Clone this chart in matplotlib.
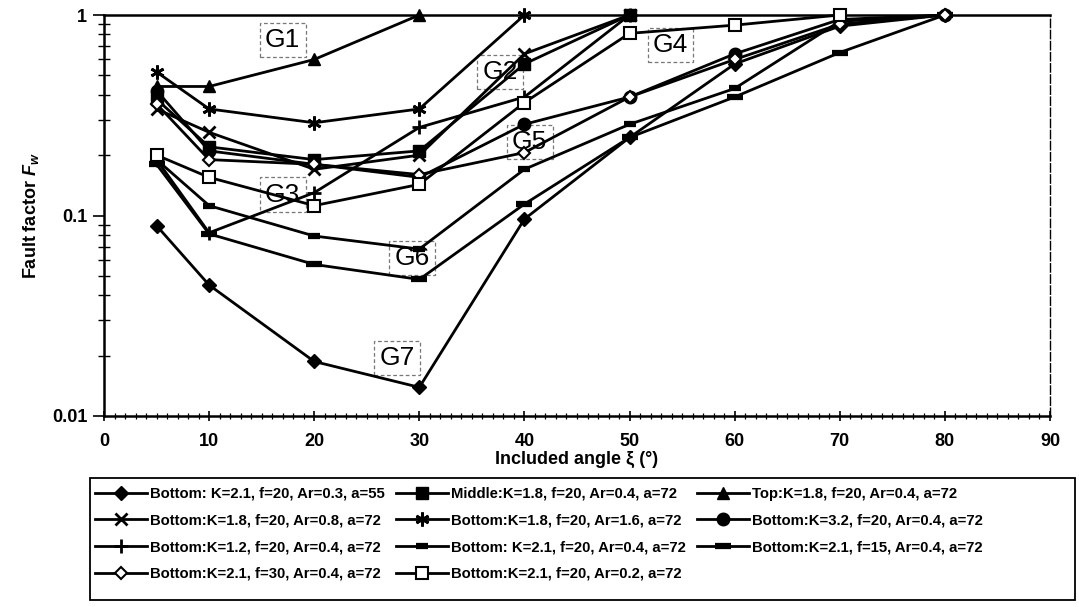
import numpy as np
import matplotlib
matplotlib.use("Agg")
import matplotlib.pyplot as plt
from matplotlib.patches import Rectangle
from matplotlib.ticker import FixedLocator, LogLocator, NullFormatter, FixedFormatter

plt.rcParams['font.family'] = ['Liberation Sans', 'DejaVu Sans']
plt.rcParams['mathtext.fontset'] = 'custom'
plt.rcParams['mathtext.it'] = 'Liberation Sans:bold:italic'
plt.rcParams['mathtext.rm'] = 'Liberation Sans:bold'

nan = np.nan
angle = [5, 10, 20, 30, 40, 50, 60, 70, 80]

bottom_k21_ar03_a55 = [0.089, 0.045, 0.0187, 0.0139, 0.096, 0.245, 0.57, 0.88, 1.0]
middle_k18 = [0.38, 0.22, 0.19, 0.21, 0.57, 1.0, nan, nan, nan]
top_k18 = [0.44, 0.44, 0.60, 1.0, nan, nan, nan, nan, nan]
bottom_k18_ar08 = [0.34, 0.26, 0.17, 0.20, 0.64, 1.0, nan, nan, nan]
bottom_k18_ar16 = [0.52, 0.34, 0.29, 0.34, 1.0, nan, nan, nan, nan]
bottom_k32 = [0.42, 0.21, 0.18, 0.155, 0.285, 0.39, 0.64, 0.95, 1.0]
bottom_k12 = [0.19, 0.082, 0.13, 0.275, 0.39, 1.0, nan, nan, nan]
bottom_k21_f20 = [0.19, 0.112, 0.079, 0.068, 0.17, 0.285, 0.43, 0.93, 1.0]
bottom_k21_f15 = [0.18, 0.081, 0.057, 0.048, 0.114, 0.245, 0.39, 0.65, 1.0]
bottom_k21_f30 = [0.36, 0.19, 0.18, 0.16, 0.206, 0.39, 0.60, 0.90, 1.0]
bottom_k21_ar02 = [0.20, 0.155, 0.112, 0.143, 0.366, 0.81, 0.89, 1.0, nan]

labels = [
    "Bottom: K=2.1, f=20, Ar=0.3, a=55",
    "Middle:K=1.8, f=20, Ar=0.4, a=72",
    "Top:K=1.8, f=20, Ar=0.4, a=72",
    "Bottom:K=1.8, f=20, Ar=0.8, a=72",
    "Bottom:K=1.8, f=20, Ar=1.6, a=72",
    "Bottom:K=3.2, f=20, Ar=0.4, a=72",
    "Bottom:K=1.2, f=20, Ar=0.4, a=72",
    "Bottom: K=2.1, f=20, Ar=0.4, a=72",
    "Bottom:K=2.1, f=15, Ar=0.4, a=72",
    "Bottom:K=2.1, f=30, Ar=0.4, a=72",
    "Bottom:K=2.1, f=20, Ar=0.2, a=72",
]
series = [bottom_k21_ar03_a55, middle_k18, top_k18, bottom_k18_ar08, bottom_k18_ar16,
          bottom_k32, bottom_k12, bottom_k21_f20, bottom_k21_f15, bottom_k21_f30,
          bottom_k21_ar02]

# marker style per series
styles = [
    dict(marker='D', markersize=7, markerfacecolor='black', markeredgewidth=1),
    dict(marker='s', markersize=8, markerfacecolor='black', markeredgewidth=1),
    dict(marker='^', markersize=8, markerfacecolor='black', markeredgewidth=1),
    dict(marker='x', markersize=9, markeredgewidth=2),
    dict(marker=(6, 2, 0), markersize=10, markeredgewidth=2),
    dict(marker='o', markersize=9, markerfacecolor='black', markeredgewidth=1),
    dict(marker='+', markersize=10, markeredgewidth=2),
    dict(marker='_', markersize=9, markeredgewidth=4.5),
    dict(marker='_', markersize=12, markeredgewidth=4.5),
    dict(marker='D', markersize=6, markerfacecolor='white', markeredgewidth=1.5),
    dict(marker='s', markersize=8, markerfacecolor='white', markeredgewidth=1.5),
]

fig = plt.figure(figsize=(10.79, 6.07), dpi=100)
ax = fig.add_axes([104 / 1079, 1 - 416 / 607, 946 / 1079, 401 / 607])

handles = []
for vals, lab, st in zip(series, labels, styles):
    h, = ax.plot(angle, vals, color='black', linewidth=2.0, label=lab,
                 markeredgecolor='black', clip_on=False, zorder=3, **st)
    handles.append(h)

ax.set_yscale('log')
ax.set_xlim(0, 90)
ax.set_ylim(0.01, 1)

ax.xaxis.set_major_locator(FixedLocator(np.arange(0, 91, 10)))
ax.xaxis.set_minor_locator(FixedLocator(np.arange(0, 91, 1)))
ax.yaxis.set_major_locator(FixedLocator([0.01, 0.1, 1]))
ax.yaxis.set_major_formatter(FixedFormatter(['0.01', '0.1', '1']))
ax.yaxis.set_minor_locator(LogLocator(base=10, subs=np.arange(2, 10)))
ax.yaxis.set_minor_formatter(NullFormatter())

ax.tick_params(axis='both', which='major', labelsize=13, width=1.2, color='black')
ax.tick_params(axis='x', which='major', direction='inout', length=7, pad=9)
ax.tick_params(axis='x', which='minor', direction='inout', length=4, width=0.9)
ax.tick_params(axis='y', which='major', direction='out', length=8, pad=4)
ax.tick_params(axis='y', which='minor', direction='inout', length=8, width=1.0)
for t in ax.get_xticklabels() + ax.get_yticklabels():
    t.set_fontweight('bold')

for side in ['left', 'bottom', 'top']:
    ax.spines[side].set_linewidth(1.8)
ax.spines['right'].set_linewidth(1.0)
ax.spines['right'].set_linestyle((0, (6, 2)))

ax.set_xlabel('Included angle ξ (°)', fontsize=13, fontweight='bold', labelpad=0)
ax.set_ylabel(r'Fault factor $F_w$', fontsize=13, fontweight='bold', labelpad=8)

# group labels
groups = ['G1', 'G2', 'G3', 'G4', 'G5', 'G6', 'G7']
group_x = [17.0, 37.7, 17.0, 53.9, 40.5, 29.3, 27.9]
group_y = [0.75, 0.52, 0.127, 0.71, 0.232, 0.0615, 0.0195]
for g, gx, gy in zip(groups, group_x, group_y):
    ax.text(gx, gy, g, fontsize=19, ha='center', va='center', zorder=2,
            bbox=dict(boxstyle='square,pad=0.2', facecolor='white',
                      edgecolor='#777777', linewidth=0.9, linestyle=(0, (3, 2))))

# legend frame spanning the width below the axis title
fig.add_artist(Rectangle((90 / 1079, 1 - 600 / 607), 985 / 1079, 122 / 607,
                         transform=fig.transFigure, facecolor='white',
                         edgecolor='black', linewidth=1.3, zorder=1))

# legend laid out row by row in three columns
order = [0, 3, 6, 9, 1, 4, 7, 10, 2, 5, 8]
leg = fig.legend([handles[i] for i in order], [labels[i] for i in order],
                 loc='upper left', ncol=3,
                 bbox_to_anchor=(95 / 1079, 1 - 487 / 607),
                 prop=dict(size=10.7, weight='bold'),
                 handlelength=3.5, handletextpad=0.2,
                 columnspacing=0.75, labelspacing=0.85, borderpad=0,
                 frameon=False, borderaxespad=0)
leg.set_zorder(2)

fig.savefig('out.png', dpi=100)
